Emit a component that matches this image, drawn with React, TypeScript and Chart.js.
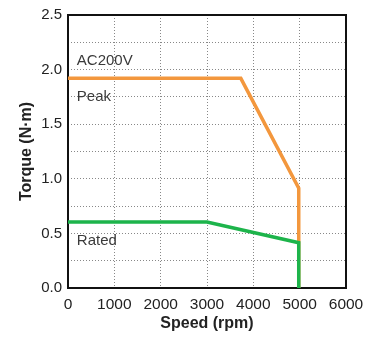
import React, { useEffect, useRef } from "react";
import { Chart, registerables } from "chart.js";

Chart.register(...registerables);

const peakSpeed = [0, 3730, 4980, 4980];
const peakTorque = [1.92, 1.92, 0.915, 0];
const ratedSpeed = [0, 3000, 4980, 4980];
const ratedTorque = [0.605, 0.605, 0.415, 0];

const xTicks = [0, 1000, 2000, 3000, 4000, 5000, 6000];
const notes = [
  { text: "AC200V", x: 190, y: 2.08 },
  { text: "Peak", x: 190, y: 1.75 },
  { text: "Rated", x: 190, y: 0.43 },
];

const FONT = "'Liberation Sans', Arial, sans-serif";

const framePlugin = {
  id: "frame",
  beforeDatasetsDraw(chart: any) {
    const { ctx, chartArea } = chart;
    ctx.save();
    ctx.strokeStyle = "#111";
    ctx.lineWidth = 2;
    ctx.strokeRect(chartArea.left, chartArea.top, chartArea.right - chartArea.left, chartArea.bottom - chartArea.top);
    ctx.restore();
  },
  afterDatasetsDraw(chart: any) {
    const { ctx } = chart;
    const xs = chart.scales.x;
    const ys = chart.scales.y;
    ctx.save();
    ctx.fillStyle = "#3a3a3a";
    ctx.font = `15px ${FONT}`;
    ctx.textAlign = "left";
    ctx.textBaseline = "middle";
    for (const n of notes) {
      ctx.fillText(n.text, xs.getPixelForValue(n.x), ys.getPixelForValue(n.y));
    }
    ctx.restore();
  },
};

export default function App() {
  const ref = useRef<HTMLCanvasElement>(null);
  useEffect(() => {
    const chart = new Chart(ref.current!, {
      type: "line",
      data: {
        datasets: [
          {
            label: "Rated",
            data: ratedSpeed.map((s, i) => ({ x: s, y: ratedTorque[i] })),
            borderColor: "#1db44b",
            borderWidth: 3.5,
            pointRadius: 0,
            borderJoinStyle: "miter",
            tension: 0,
          },
          {
            label: "Peak",
            data: peakSpeed.map((s, i) => ({ x: s, y: peakTorque[i] })),
            borderColor: "#f3973d",
            borderWidth: 3.5,
            pointRadius: 0,
            borderJoinStyle: "miter",
            tension: 0,
          },
        ],
      },
      options: {
        animation: false,
        responsive: true,
        maintainAspectRatio: false,
        layout: { padding: { top: 14, right: 37, left: 0, bottom: 0 } },
        plugins: { legend: { display: false }, tooltip: { enabled: false } },
        scales: {
          x: {
            type: "linear",
            min: 0,
            max: 6000,
            afterBuildTicks: (s: any) => {
              s.ticks = xTicks.map((v) => ({ value: v }));
            },
            afterFit: (s: any) => {
              s.height = 49;
            },
            border: { display: false, dash: [1, 2] },
            grid: { color: "#888", lineWidth: 1, drawTicks: false },
            ticks: {
              color: "#222",
              font: { family: FONT, size: 15.5 },
              padding: 7,
              maxRotation: 0,
              autoSkip: false,
              callback: (v: any) => String(v),
            },
            title: {
              display: true,
              text: "Speed (rpm)",
              color: "#222",
              font: { family: FONT, size: 16, weight: "bold" },
              padding: { top: 0, bottom: 4 },
            },
          },
          y: {
            min: 0,
            max: 2.5,
            afterFit: (s: any) => {
              s.width = 68;
            },
            border: { display: false, dash: [1, 2] },
            grid: { color: "#888", lineWidth: 1, drawTicks: false },
            ticks: {
              stepSize: 0.25,
              color: "#222",
              font: { family: FONT, size: 15 },
              padding: 6,
              autoSkip: false,
              callback: (v: any) => (Math.round(Number(v) * 100) % 50 === 0 ? Number(v).toFixed(1) : ""),
            },
            title: {
              display: true,
              text: "Torque (N·m)",
              color: "#222",
              font: { family: FONT, size: 16, weight: "bold" },
              padding: { top: 17, bottom: 0 },
            },
          },
        },
      },
      plugins: [framePlugin],
    });
    return () => chart.destroy();
  }, []);
  return (
    <div style={{ position: "absolute", left: 0, top: 0, width: 383, height: 337 }}>
      <canvas ref={ref} />
    </div>
  );
}
